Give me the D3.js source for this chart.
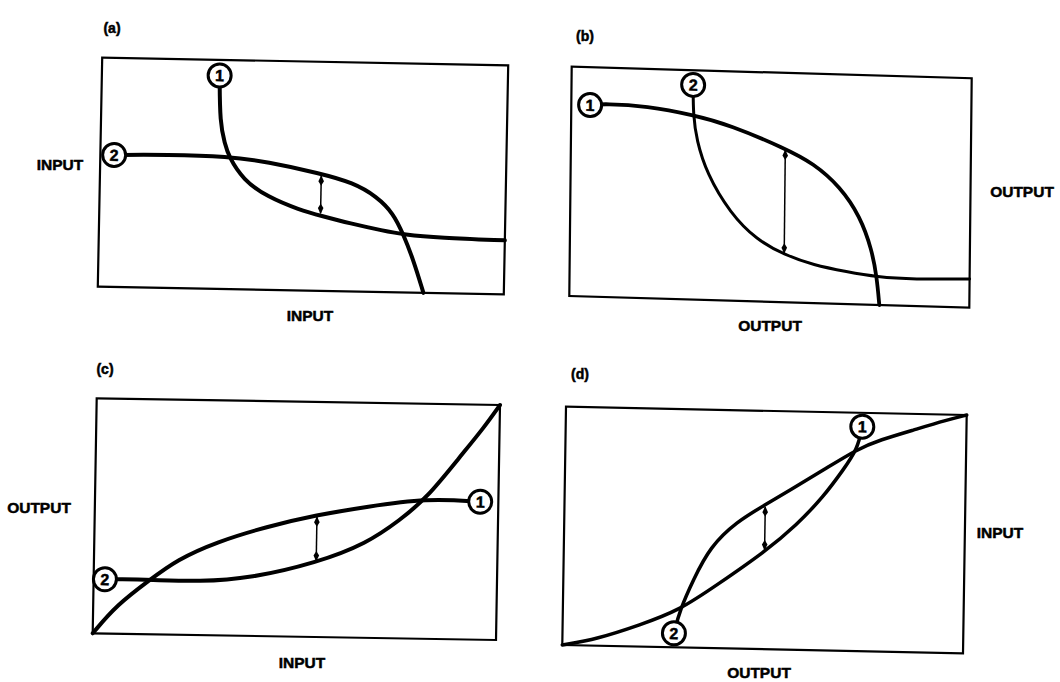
<!DOCTYPE html>
<html>
<head>
<meta charset="utf-8">
<script src="https://cdn.jsdelivr.net/npm/d3@7"></script>
<style>
  html, body { margin: 0; padding: 0; background: #fff; }
  svg { display: block; }
  .lbl { font-family: "Liberation Sans", Arial, sans-serif; font-weight: bold; fill: #000; stroke: #000; stroke-width: 0.5px; }
</style>
</head>
<body>
<svg id="chart" width="1060" height="682"></svg>
<script>
// Characteristic curves, in percent of each frame (x: 0 left .. 100 right, y: 0 bottom .. 100 top).
// Each curve begins at its numbered end marker.
const aCurve1 = [[29.0,93.2],[29.3,72.3],[30.6,63.6],[31.6,57.9],[35.3,47.8],[41.2,40.7],[49.4,35.1],[54.8,32.7],[61.8,29.7],[70.0,26.8],[75.0,25.3],[84.0,24.2],[100,23.6]];
const aCurve2 = [[3.4,57.6],[16.3,58.2],[31.6,57.9],[41.0,55.9],[54.2,51.3],[62.4,47.5],[68.3,41.6],[72.4,34.5],[75.0,25.3],[77.6,14.2],[80.2,0]];
const bCurve1 = [[4.7,83.5],[8.4,84.3],[18.9,83.8],[30.5,80.5],[39.7,76.6],[53.5,67.1],[60.7,60.9],[67.4,51.1],[72.5,38.3],[75.5,23.9],[76.8,12.2],[77.5,0]];
const bCurve2 = [[30.4,93.6],[30.5,80.5],[31.4,69.6],[34.0,55.2],[40.0,38.1],[46.7,26.8],[53.8,20.6],[60.9,16.6],[69.3,14.1],[76.8,12.2],[86.0,11.6],[100,12.5]];
const cCurve1 = [[95.5,58.7],[82.2,59.8],[67.4,55.8],[55.0,51.9],[42.7,46.6],[30.4,39.8],[20.5,31.8],[14.0,23.2],[5.8,12.2],[0,0]];
const cCurve2 = [[2.8,23.1],[6.5,23.2],[14.0,23.2],[26.4,22.7],[38.8,24.5],[55.2,31.6],[67.6,40.2],[75.7,50.4],[82.2,59.8],[90.3,77.7],[96.0,90.0],[100,100]];
const dCurve1 = [[74.0,94.2],[72.9,84.8],[69.4,75.9],[64.6,64.5],[58.0,52.4],[50.2,40.9],[38.3,26.5],[29.2,15.7],[19.3,9.1],[8.6,2.8],[0,0]];
const dCurve2 = [[27.8,5.9],[29.2,15.7],[32.4,28.4],[36.5,42.5],[43.0,53.2],[50.0,60.5],[56.2,67.0],[64.5,75.7],[72.9,84.8],[78.5,88.8],[86.7,93.2],[95.0,97.7],[100,100]];

// Double-headed gap arrows: [x, upper y, lower y]
const aGap = [54.5, 51.0, 33.0];
const bGap = [53.6, 67.1, 20.6];
const cGap = [55.1, 51.9, 31.6];
const dGap = [50.1, 60.5, 40.9];

// Curve numbers and panel captions
const curveNames = ["1", "2"];
const panelTags = ["(a)", "(b)", "(c)", "(d)"];
const axisTexts = [["INPUT", "INPUT"], ["OUTPUT", "OUTPUT"], ["INPUT", "OUTPUT"], ["OUTPUT", "INPUT"]];

// Frame geometry on the page: top-left corner, top edge vector, left edge vector
const frames = [
  { tl: [102.2, 57.6], top: [406, 7.8],   side: [-4.4, 229] },
  { tl: [571.7, 66.7], top: [400, 11.6],  side: [-2.4, 229.3] },
  { tl: [96.7, 398.3], top: [403.3, 6.7], side: [-4, 235] },
  { tl: [566, 406.7],  top: [400.7, 8.3], side: [-3.7, 238.3] }
];
// Caption / axis-title anchor points
const captionPos = [[112, 28], [585, 36], [105, 369], [580, 374]];
const bottomPos  = [[310, 316], [770, 326], [302, 663], [759, 673]];
const sidePos    = [[60, 165], [1022, 192], [39, 508], [1000, 533]];
const widths = [[4, 4], [3.8, 3], [4, 4], [3.5, 3.5]];

const curves = [[aCurve1, aCurve2], [bCurve1, bCurve2], [cCurve1, cCurve2], [dCurve1, dCurve2]];
const gaps = [aGap, bGap, cGap, dGap];

const svg = d3.select("#chart");

const defs = svg.append("defs");
defs.append("marker")
  .attr("id", "head")
  .attr("viewBox", "0 -4 12 8")
  .attr("refX", 11).attr("refY", 0)
  .attr("markerUnits", "userSpaceOnUse")
  .attr("markerWidth", 11).attr("markerHeight", 7)
  .attr("orient", "auto-start-reverse")
  .append("path")
  .attr("d", "M0,0 L5,-3.2 L12,0 L5,3.2 Z")
  .attr("fill", "#000");

frames.forEach((f, i) => {
  const W = f.top[0], H = f.side[1];
  const x = d3.scaleLinear().domain([0, 100]).range([0, W]);
  const y = d3.scaleLinear().domain([0, 100]).range([H, 0]);

  const g = svg.append("g")
    .attr("transform", `matrix(${f.top[0] / W},${f.top[1] / W},${f.side[0] / H},${f.side[1] / H},${f.tl[0]},${f.tl[1]})`);

  g.append("rect")
    .attr("x", x(0)).attr("y", y(100))
    .attr("width", x(100) - x(0)).attr("height", y(0) - y(100))
    .attr("fill", "none").attr("stroke", "#000").attr("stroke-width", 2.2);

  const line = d3.line()
    .x(d => x(d[0])).y(d => y(d[1]))
    .curve(d3.curveBasis);

  curves[i].forEach((c, k) => {
    g.append("path")
      .attr("d", line(c))
      .attr("fill", "none")
      .attr("stroke", "#000")
      .attr("stroke-width", widths[i][k])
      .attr("stroke-linecap", "round")
      .attr("stroke-linejoin", "round");
  });

  const gp = gaps[i];
  g.append("line")
    .attr("x1", x(gp[0])).attr("y1", y(gp[1]) + 2)
    .attr("x2", x(gp[0])).attr("y2", y(gp[2]) - 2)
    .attr("stroke", "#000").attr("stroke-width", 1.5)
    .attr("marker-start", "url(#head)")
    .attr("marker-end", "url(#head)");

  // numbered end markers
  curves[i].forEach((c, k) => {
    const p = c[0];
    const m = g.append("g").attr("transform", `translate(${x(p[0])},${y(p[1])})`);
    m.append("circle").attr("r", 11.5)
      .attr("fill", "#fff").attr("stroke", "#000").attr("stroke-width", 3);
    m.append("text").attr("class", "lbl")
      .attr("text-anchor", "middle").attr("dy", "0.36em")
      .style("font-size", "16px")
      .text(curveNames[k]);
  });

  svg.append("text").attr("class", "lbl")
    .attr("x", captionPos[i][0]).attr("y", captionPos[i][1])
    .attr("text-anchor", "middle").attr("dy", "0.35em")
    .style("font-size", "14px")
    .text(panelTags[i]);

  svg.append("text").attr("class", "lbl")
    .attr("x", bottomPos[i][0]).attr("y", bottomPos[i][1])
    .attr("text-anchor", "middle").attr("dy", "0.35em")
    .style("font-size", "15.5px")
    .text(axisTexts[i][0]);

  svg.append("text").attr("class", "lbl")
    .attr("x", sidePos[i][0]).attr("y", sidePos[i][1])
    .attr("text-anchor", "middle").attr("dy", "0.35em")
    .style("font-size", "15.5px")
    .text(axisTexts[i][1]);
});
</script>
</body>
</html>
